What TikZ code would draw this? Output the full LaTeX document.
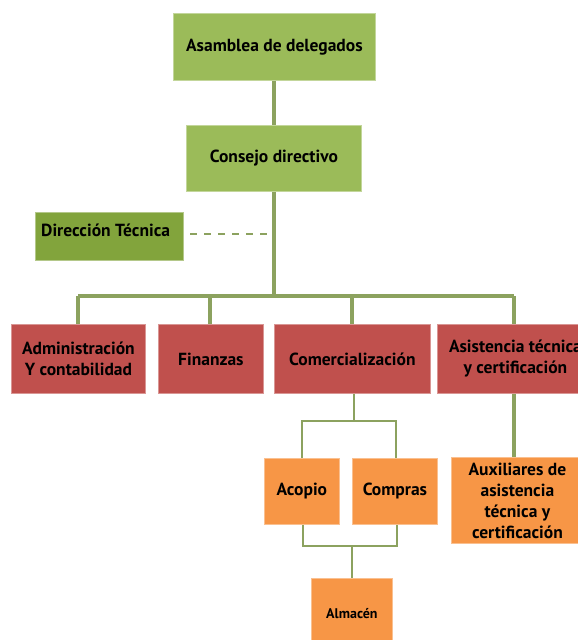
\documentclass[tikz,border=0pt]{standalone}
\usepackage{fontspec}
\setmainfont{PT Sans}
\definecolor{gbox}{HTML}{9BBB59}
\definecolor{dgbox}{HTML}{82A43C}
\definecolor{rbox}{HTML}{C0504D}
\definecolor{obox}{HTML}{F79646}
\definecolor{conn}{HTML}{8CA25F}
\begin{document}
\begin{tikzpicture}[x=1pt,y=-1pt,
  box/.style={rectangle, draw=#1!60!white, line width=0.8pt, fill=#1, anchor=north west, inner sep=0pt, align=center, font=\bfseries\fontsize{17.5}{21}\selectfont, text=black},
  lk/.style={draw=conn, line width=3.5pt},
  lks/.style={draw=conn, line width=2.6pt},
  dlk/.style={draw=conn, line width=2.2pt, dash pattern=on 7pt off 7pt}]
\useasboundingbox (0,0) rectangle (578,640);
\clip (0,0) rectangle (578,640);
% boxes
\node[box=gbox, minimum width=202, minimum height=67] (asam) at (173,13) {\raisebox{2.5pt}{Asamblea de delegados}};
\node[box=gbox, minimum width=175, minimum height=66] (cons) at (186,125) {Consejo directivo};
\node[box=dgbox, minimum width=148, minimum height=48] (dir) at (35,212) {};
\node[anchor=west, inner sep=0pt, font=\bfseries\fontsize{17.5}{21}\selectfont] (dirt) at (41,230) {Dirección Técnica};
\node[box=rbox, minimum width=134, minimum height=69] (adm) at (11,324) {Administración\\Y contabilidad};
\node[box=rbox, minimum width=105, minimum height=69] (fin) at (158,324) {Finanzas};
\node[box=rbox, minimum width=156, minimum height=69] (com) at (274,324) {Comercialización};
\node[box=rbox, minimum width=156, minimum height=69] (asis) at (437,324) {Asistencia técnica\\y certificación};
\node[box=obox, minimum width=75, minimum height=66] (aco) at (264,458) {Acopio};
\node[box=obox, minimum width=85, minimum height=66] (compr) at (352,458) {Compras};
\node[box=obox, minimum width=132, minimum height=86] (aux) at (451,457) {Auxiliares de\\asistencia\\técnica y\\certificación};
\node[box=obox, minimum width=81, minimum height=70, font=\bfseries\fontsize{14}{16}\selectfont] (alm) at (311,578) {Almacén};
% connectors
\coordinate (busy) at (0,296);
\coordinate (trunk) at (274,0);
\draw[lk] (trunk |- asam.south) -- (trunk |- cons.north);
\draw[lk] (trunk |- cons.south) -- (trunk |- busy);
\draw[dlk] (190,234) -- (trunk |- 0,234);
\draw[lk] (78,296) -- (514,296);
\draw[lk] (78,296) -- (78,0 |- adm.north);
\draw[lk] (210,296) -- (210,0 |- fin.north);
\draw[lk] (352,296) -- (352,0 |- com.north);
\draw[lk] (514,296) -- (514,0 |- asis.north);
\draw[lk] (514,0 |- asis.south) -- (514,0 |- aux.north);
\draw[lks] (354,0 |- com.south) -- (354,421);
\draw[lks] (302,0 |- aco.north) -- (302,421) -- (396,421) -- (396,0 |- compr.north);
\draw[lks] (303,0 |- aco.south) -- (303,546) -- (397,546) -- (397,0 |- compr.south);
\draw[lks] (352,546) -- (352,0 |- alm.north);
\end{tikzpicture}
\end{document}
